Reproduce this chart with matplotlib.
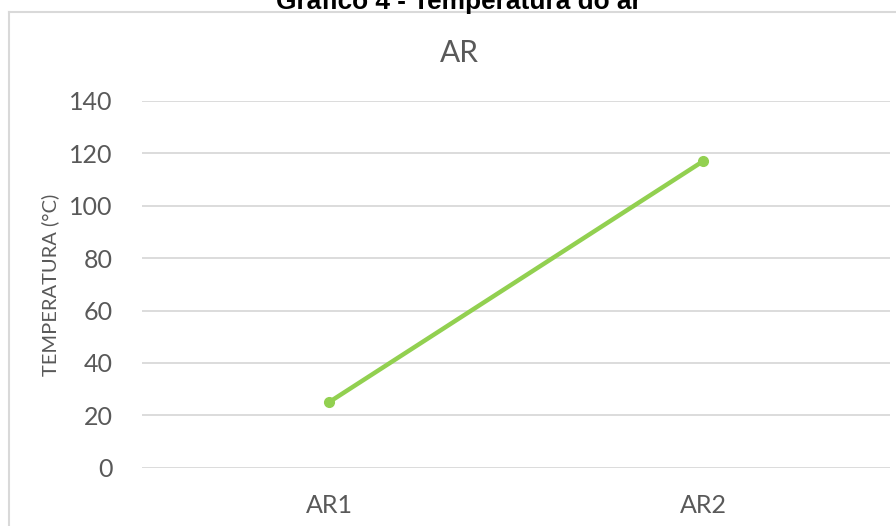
import numpy as np
import matplotlib.pyplot as plt
from matplotlib.lines import Line2D

# dados do gráfico
categorias = ["AR1", "AR2"]
temperaturas = [25, 117]
y_ticks = [0, 20, 40, 60, 80, 100, 120, 140]

W, H = 896, 526

fig = plt.figure(figsize=(W / 100, H / 100), dpi=100)
ax = fig.add_axes([142 / W, 1 - 467.7 / H, (890 - 142) / W, (467.7 - 101) / H])

x = np.arange(len(categorias))

ax.plot(x, temperaturas, color="#92D050", linewidth=3.2,
        marker="o", markersize=7, solid_capstyle="round", zorder=3)

ax.set_xlim(-0.5, len(categorias) - 0.5)
ax.set_ylim(0, 140)
ax.set_yticks(y_ticks)
ax.set_xticks(x)
ax.set_xticklabels(categorias)

for lab in ax.get_xticklabels() + ax.get_yticklabels():
    lab.set_family("Lato")
    lab.set_fontsize(18)
    lab.set_color("#595959")

ax.tick_params(axis="y", length=0, pad=21)
ax.tick_params(axis="x", length=0, pad=19)
ax.grid(True, axis="y", color="#D9D9D9", linewidth=1.3)
ax.set_axisbelow(True)
for s in ax.spines.values():
    s.set_visible(False)

# título do gráfico (Excel)
fig.text(459 / W, 1 - 61.7 / H, "AR", family="Lato", fontsize=21.5,
         color="#595959", ha="center", va="baseline")

fig.text(50 / W, 1 - 285 / H, "TEMPERATURA (°C)", family="Lato", fontsize=14.5,
         color="#595959", rotation=90, ha="center", va="center")

# legenda do documento, cortada no topo como na imagem original
fig.text(458.5 / W, 1 - 9 / H, "Gráfico 4 - Temperatura do ar",
         family="Liberation Sans", fontweight="bold", fontsize=18.9,
         color="black", ha="center", va="baseline")

# borda da área do gráfico
fig.add_artist(Line2D([9 / W, 1], [1 - 12.3 / H, 1 - 12.3 / H],
                      color="#D9D9D9", linewidth=1.5))
fig.add_artist(Line2D([9 / W, 9 / W], [0, 1 - 12.3 / H],
                      color="#D9D9D9", linewidth=1.5))

fig.savefig("out.png", dpi=100)
